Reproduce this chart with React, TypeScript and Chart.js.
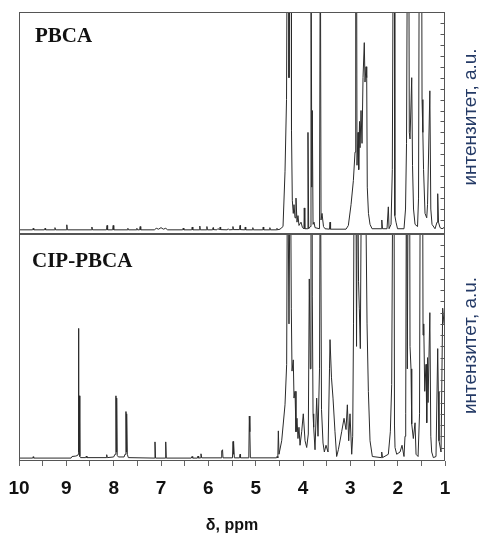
import React, { useEffect, useRef } from 'react';
import { Chart, registerables } from 'chart.js';

Chart.register(...registerables);

// ---- text ----
const panelLabels = ['PBCA', 'CIP-PBCA'];
const yAxisLabel = 'интензитет, a.u.';
const xAxisLabel = 'δ, ppm';
const xTickLabels = [10, 9, 8, 7, 6, 5, 4, 3, 2, 1];

// ---- PBCA spectrum (chemical shift, ppm / intensity, a.u.; >100 = off scale) ----
const pbcaPpm = [
  10.0, 9.712, 9.7, 9.688, 9.462, 9.45, 9.438, 9.252, 9.24, 9.228, 9.002, 8.99, 8.978,
  8.472, 8.46, 8.448, 8.152, 8.14, 8.128, 8.022, 8.01, 7.998, 7.712, 7.7, 7.688,
  7.522, 7.51, 7.498, 7.452, 7.44, 7.428, 7.14, 7.1, 7.05, 7.0, 6.95, 6.9, 6.86,
  6.542, 6.53, 6.518, 6.352, 6.34, 6.328, 6.19, 6.18, 6.17, 6.04, 6.03, 6.02,
  5.91, 5.9, 5.89, 5.82, 5.8, 5.76, 5.75, 5.74, 5.6, 5.58, 5.56,
  5.49, 5.48, 5.47, 5.34, 5.33, 5.32, 5.23, 5.22, 5.21, 5.07, 5.06, 5.05,
  4.85, 4.84, 4.83, 4.71, 4.7, 4.69, 4.56, 4.55, 4.54,
  4.486, 4.422, 4.38, 4.348, 4.332, 4.306, 4.296, 4.268, 4.249, 4.243,
  4.226, 4.205, 4.19, 4.169, 4.148, 4.127, 4.106, 4.085, 4.042, 4.011,
  3.98, 3.973, 3.962, 3.91, 3.895, 3.88, 3.846, 3.831, 3.814, 3.803,
  3.788, 3.767, 3.746, 3.651, 3.634, 3.619, 3.598, 3.567, 3.535, 3.44,
  3.429, 3.418, 3.091, 3.042, 2.985, 2.936, 2.901, 2.886, 2.869, 2.859,
  2.838, 2.823, 2.806, 2.795, 2.774, 2.753, 2.732, 2.705, 2.69, 2.669,
  2.654, 2.642, 2.617, 2.584, 2.541, 2.352, 2.335, 2.32, 2.225, 2.197,
  2.182, 2.14, 2.113, 2.092, 2.071, 2.06, 2.035, 2.003, 1.866, 1.834,
  1.813, 1.792, 1.766, 1.754, 1.739, 1.703, 1.686, 1.665, 1.633, 1.58,
  1.559, 1.542, 1.495, 1.485, 1.468, 1.453, 1.422, 1.386, 1.369, 1.32,
  1.3, 1.274, 1.211, 1.169, 1.154, 1.137, 1.105, 1.063, 1.021, 1.0,
];
const pbcaInt = [
  0.5, 0.5, 1.2, 0.5, 0.5, 1.2, 0.5, 0.5, 1.5, 0.5, 0.5, 2.8, 0.5,
  0.5, 1.8, 0.5, 0.5, 2.5, 0.5, 0.5, 2.5, 0.5, 0.5, 1.2, 0.5,
  0.5, 1.2, 0.5, 0.5, 2, 0.5, 0.5, 1.2, 0.8, 1.5, 0.8, 1.2, 0.5,
  0.5, 1.3, 0.5, 0.5, 1.8, 0.5, 0.5, 2.2, 0.5, 0.5, 2, 0.5,
  0.5, 1.5, 0.6, 0.5, 1, 0.6, 1.8, 0.6, 0.5, 1, 0.5,
  0.6, 2, 0.6, 0.6, 2.5, 0.6, 0.5, 1.8, 0.5, 0.5, 1.5, 0.5,
  0.5, 1.8, 0.5, 0.5, 1.5, 0.5, 0.5, 1.2, 0.5,
  0.8, 2, 27, 60, 150, 150, 70, 150, 150, 46,
  14, 8, 12, 6, 15, 4, 7, 2.5, 4, 1.5,
  1, 10.5, 1, 1, 45, 1, 2, 150, 20, 55,
  3, 4, 1.5, 1, 150, 5, 8, 2, 1, 0.8,
  4, 0.8, 0.8, 2.5, 12, 23, 36, 150, 150, 30,
  45, 28, 50, 38, 55, 40, 70, 86, 68, 75,
  70, 20, 8, 3, 1, 1, 5, 1, 1, 11,
  1, 3, 28, 150, 150, 7, 4, 1, 1, 10,
  40, 150, 150, 45, 42, 70, 30, 10, 3, 2,
  15, 150, 150, 60, 45, 28, 8, 6, 12, 64,
  10, 3, 1, 4, 17, 4, 1.5, 1, 1.5, 1,
];

// ---- CIP-PBCA spectrum ----
const cipPpm = [
  10.0, 9.71, 9.7, 9.69, 8.9, 8.88, 8.8, 8.76, 8.752, 8.743, 8.735, 8.726, 8.715, 8.7, 8.59, 8.578, 8.566,
  8.16, 8.147, 8.135, 8.0, 7.972, 7.96, 7.952, 7.944, 7.936, 7.925, 7.9,
  7.78, 7.76, 7.74, 7.732, 7.725, 7.712, 7.69,
  7.14, 7.127, 7.115, 6.912, 6.9, 6.888,
  6.36, 6.345, 6.33, 6.23, 6.218, 6.205, 6.17, 6.155, 6.14,
  5.73, 5.717, 5.7, 5.69, 5.49, 5.478, 5.47, 5.463, 5.45,
  5.34, 5.33, 5.32, 5.145, 5.134, 5.123, 5.112,
  4.56, 4.549, 4.532, 4.521, 4.507, 4.45, 4.38, 4.345, 4.327, 4.296,
  4.268, 4.247, 4.232, 4.205, 4.19, 4.169, 4.148, 4.127, 4.106, 4.085,
  4.063, 4.028, 3.994, 3.957, 3.922, 3.888, 3.867, 3.846, 3.831, 3.81,
  3.803, 3.788, 3.774, 3.746, 3.711, 3.683, 3.651, 3.634, 3.609, 3.577,
  3.549, 3.514, 3.471, 3.44, 3.429, 3.398, 3.366, 3.324, 3.289, 3.253,
  3.183, 3.133, 3.091, 3.063, 3.034, 3.007, 2.971, 2.95, 2.933, 2.916,
  2.886, 2.869, 2.848, 2.827, 2.81, 2.789, 2.774, 2.742, 2.69, 2.647,
  2.619, 2.584, 2.535, 2.345, 2.337, 2.32, 2.197, 2.155, 2.126, 2.099,
  2.078, 2.067, 2.056, 2.021, 1.95, 1.908, 1.866, 1.845, 1.83, 1.813,
  1.796, 1.775, 1.749, 1.739, 1.718, 1.703, 1.669, 1.633, 1.612, 1.569,
  1.538, 1.521, 1.474, 1.464, 1.449, 1.428, 1.401, 1.386, 1.369, 1.358,
  1.32, 1.3, 1.281, 1.246, 1.19, 1.154, 1.141, 1.127, 1.084, 1.049,
  1.021, 1.0,
];
const cipInt = [
  0.3, 0.3, 0.9, 0.3, 0.3, 1, 1.2, 1.5, 2, 58, 3, 28, 1, 0.5, 0.5, 1.2, 0.5,
  0.5, 1.8, 0.5, 0.8, 2, 2, 28, 3, 27, 1.5, 0.8,
  0.8, 2, 21, 3, 20, 2, 0.5,
  0.3, 7.5, 0.3, 0.3, 7.5, 0.3,
  0.3, 1, 0.3, 0.3, 1.2, 0.3, 0.4, 2.2, 0.4,
  0.4, 3.5, 4, 0.4, 0.4, 7.7, 2, 7, 0.4,
  0.4, 2, 0.4, 0.4, 19, 12, 0.4,
  0.4, 1, 0.4, 12.4, 2, 8, 24, 42, 150, 60,
  150, 67, 39, 44, 27, 30, 12, 18, 9, 14,
  6, 12, 20, 8, 5, 11, 80, 40, 150, 150,
  72, 20, 14, 4, 27, 10, 40, 150, 22, 7,
  3, 6, 3, 40, 53, 36, 27, 12, 1, 4,
  12, 18, 13, 24, 8, 20, 2, 10, 60, 150,
  150, 50, 150, 79, 67, 49, 100, 150, 150, 60,
  30, 8, 1, 0.5, 3, 0.5, 2, 12, 33, 150,
  150, 15, 5, 2, 3, 6, 1, 10, 20, 150,
  40, 150, 150, 50, 40, 15.5, 9, 16, 2, 1,
  20, 150, 150, 55, 60, 30, 42, 16, 45, 25,
  65, 10, 3, 0.5, 1, 49, 30, 8, 3, 67,
  60, 60,
];

const W = 479;
const TOP_H = 234;
const BOTTOM_H = 301;
const RIGHT_TICK_STEP = 5;

type PanelOpts = { label: string; labelDx: number; labelDy: number; sideDy: number };

function panelPlugin(o: PanelOpts) {
  return {
    id: 'panelDecor',
    afterDraw(chart: any) {
      const { ctx, chartArea: a } = chart;
      const ys = chart.scales.y;
      ctx.save();
      ctx.strokeStyle = '#555';
      ctx.lineWidth = 1;
      const l = Math.round(a.left) + 0.5;
      const t = Math.round(a.top) + 0.5;
      const r = Math.round(a.right) - 0.5;
      const b = Math.round(a.bottom) - 0.5;
      ctx.strokeRect(l, t, r - l, b - t);
      // inward minor ticks on the right edge
      ctx.beginPath();
      for (let v = RIGHT_TICK_STEP; v < 100; v += RIGHT_TICK_STEP) {
        const y = Math.round(ys.getPixelForValue(v)) + 0.5;
        ctx.moveTo(r, y);
        ctx.lineTo(r - 4, y);
      }
      ctx.stroke();
      // panel label
      ctx.fillStyle = '#111';
      ctx.font = 'bold 21px "Liberation Serif", "Times New Roman", serif';
      ctx.textAlign = 'left';
      ctx.textBaseline = 'alphabetic';
      ctx.fillText(o.label, a.left + o.labelDx, a.top + o.labelDy);
      // side (intensity) label
      ctx.translate(a.right + 26, (a.top + a.bottom) / 2 + o.sideDy);
      ctx.rotate(-Math.PI / 2);
      ctx.textAlign = 'center';
      ctx.textBaseline = 'middle';
      ctx.font = '19px "Liberation Sans", Arial, sans-serif';
      ctx.fillStyle = '#243a66';
      ctx.fillText(yAxisLabel, 0, 0);
      ctx.restore();
    },
  };
}

function dataset(ppm: number[], inten: number[]) {
  return {
    data: ppm.map((x, i) => ({ x, y: inten[i] })),
    borderColor: '#2a2a2a',
    borderWidth: 1,
    pointRadius: 0,
    tension: 0,
    fill: false,
  };
}

export default function App() {
  const topRef = useRef<HTMLCanvasElement | null>(null);
  const botRef = useRef<HTMLCanvasElement | null>(null);

  useEffect(() => {
    const top = new Chart(topRef.current as HTMLCanvasElement, {
      type: 'line',
      data: { datasets: [dataset(pbcaPpm, pbcaInt)] },
      options: {
        animation: false,
        responsive: false,
        devicePixelRatio: 1,
        layout: { padding: { left: 19, right: 34, top: 12, bottom: 0 } },
        plugins: { legend: { display: false }, tooltip: { enabled: false } },
        scales: {
          x: { type: 'linear', reverse: true, min: 1, max: 10, display: false },
          y: { min: -1.4, max: 100, display: false },
        },
      },
      plugins: [panelPlugin({ label: panelLabels[0], labelDx: 16, labelDy: 30, sideDy: -6 })],
    } as any);

    const bottom = new Chart(botRef.current as HTMLCanvasElement, {
      type: 'line',
      data: { datasets: [dataset(cipPpm, cipInt)] },
      options: {
        animation: false,
        responsive: false,
        devicePixelRatio: 1,
        layout: { padding: { left: 19, right: 34, top: 0, bottom: 0 } },
        plugins: { legend: { display: false }, tooltip: { enabled: false } },
        scales: {
          x: {
            type: 'linear',
            reverse: true,
            min: 1,
            max: 10,
            afterFit: (scale: any) => {
              scale.paddingLeft = 0;
              scale.paddingRight = 0;
            },
            ticks: {
              stepSize: 0.5,
              autoSkip: false,
              maxRotation: 0,
              padding: 11.5,
              color: '#111',
              font: { family: '"Liberation Sans", Arial, sans-serif', size: 19, weight: 'bold' },
              callback: (v: any) => (xTickLabels.includes(Number(v)) ? String(v) : ''),
            },
            grid: { drawOnChartArea: false, drawTicks: true, tickLength: 5, color: '#666' },
            border: { display: false },
            title: {
              display: true,
              text: xAxisLabel,
              color: '#111',
              font: { family: '"Liberation Sans", Arial, sans-serif', size: 16, weight: 'bold' },
              padding: { top: 4, bottom: 0 },
            },
          },
          y: { min: -1, max: 100, display: false },
        },
      },
      plugins: [panelPlugin({ label: panelLabels[1], labelDx: 13, labelDy: 33, sideDy: -2 })],
    } as any);

    return () => {
      top.destroy();
      bottom.destroy();
    };
  }, []);

  return (
    <div style={{ position: 'fixed', left: 0, top: 0, width: W, height: TOP_H + BOTTOM_H, background: '#fff' }}>
      <canvas ref={topRef} width={W} height={TOP_H} style={{ position: 'absolute', left: 0, top: 0 }} />
      <canvas ref={botRef} width={W} height={BOTTOM_H} style={{ position: 'absolute', left: 0, top: TOP_H }} />
    </div>
  );
}
